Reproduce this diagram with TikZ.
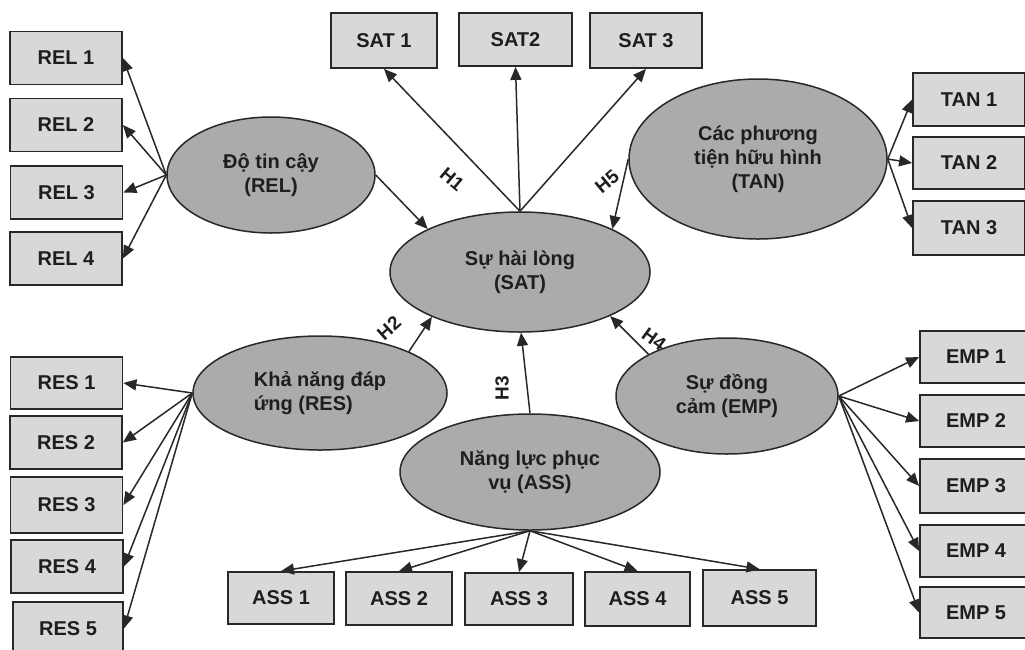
\documentclass[tikz,border=0pt]{standalone}
\usepackage{fontspec}
\setmainfont{Liberation Sans}
\usetikzlibrary{shapes.geometric,arrows.meta,calc}
\definecolor{boxfill}{RGB}{216,216,216}
\definecolor{ellfill}{RGB}{171,171,171}
\definecolor{bordercol}{RGB}{40,40,40}
\definecolor{txt}{RGB}{30,30,30}
\begin{document}
\begin{tikzpicture}[x=1pt,y=-1pt,
  boxnode/.style={draw=bordercol, line width=1.8pt, fill=boxfill, minimum width=112pt, minimum height=53pt, inner sep=0pt, text=txt, font=\bfseries\fontsize{20}{24}\selectfont},
  latent/.style={ellipse, draw=bordercol, line width=1.5pt, fill=ellfill, inner sep=0pt, text=txt, align=center, font=\bfseries\fontsize{20}{24}\selectfont},
  arr/.style={draw=bordercol, line width=1.5pt, -{Triangle[length=13pt,width=11pt]}},
  hlab/.style={text=txt, font=\bfseries\fontsize{19}{19}\selectfont, inner sep=0pt}]
\useasboundingbox (0,0) rectangle (1025,649);
\fill[white] (0,0) rectangle (1025,649);
\clip (0,0) rectangle (1025,649);

% latent ellipses
\node[latent, minimum width=208pt, minimum height=116pt] (REL) at (271,175) {Độ tin cậy\\(REL)};
\node[latent, minimum width=260pt, minimum height=120pt] (SAT) at (520,272) {Sự hài lòng\\(SAT)};
\node[latent, minimum width=258pt, minimum height=160pt] (TAN) at (758,159) {Các phương\\tiện hữu hình\\(TAN)};
\node[latent, minimum width=254pt, minimum height=114pt, align=left] (RES) at (320,393) {Khả năng đáp\\ứng (RES)};
\node[latent, minimum width=260pt, minimum height=116pt] (ASS) at (530,472) {Năng lực phục\\vụ (ASS)};
\node[latent, minimum width=222pt, minimum height=116pt] (EMP) at (727,396) {Sự đồng\\cảm (EMP)};

% REL boxes
\node[boxnode] (REL1) at (66,58) {REL 1};
\node[boxnode] (REL2) at (66,125) {REL 2};
\node[boxnode] (REL3) at (66.5,192.5) {REL 3};
\node[boxnode] (REL4) at (66,258.5) {REL 4};
% SAT boxes
\node[boxnode, minimum width=106pt, minimum height=55pt] (SAT1) at (384,40.5) {SAT 1};
\node[boxnode, minimum width=113pt] (SAT2) at (515.5,39.5) {SAT2};
\node[boxnode, minimum height=55pt] (SAT3) at (646,40.5) {SAT 3};
% TAN boxes
\node[boxnode] (TAN1) at (969,99.5) {TAN 1};
\node[boxnode, minimum height=52pt] (TAN2) at (969,163) {TAN 2};
\node[boxnode, minimum height=54pt] (TAN3) at (969,228) {TAN 3};
% RES boxes
\node[boxnode, minimum height=52pt] (RES1) at (66.5,383) {RES 1};
\node[boxnode] (RES2) at (66,442.5) {RES 2};
\node[boxnode, minimum height=56pt] (RES3) at (66.5,505) {RES 3};
\node[boxnode] (RES4) at (67,566.5) {RES 4};
\node[boxnode, minimum width=110pt] (RES5) at (68,628.5) {RES 5};
% ASS boxes
\node[boxnode, minimum width=106pt, minimum height=52pt] (ASS1) at (281,598) {ASS 1};
\node[boxnode, minimum width=106pt] (ASS2) at (399,598.5) {ASS 2};
\node[boxnode, minimum width=108pt, minimum height=52pt] (ASS3) at (519,599) {ASS 3};
\node[boxnode, minimum width=105pt, minimum height=54pt] (ASS4) at (637.5,599) {ASS 4};
\node[boxnode, minimum width=113pt, minimum height=56pt] (ASS5) at (759.5,598) {ASS 5};
% EMP boxes
\node[boxnode, minimum height=52pt] (EMP1) at (976,357) {EMP 1};
\node[boxnode, minimum height=52pt] (EMP2) at (976,421) {EMP 2};
\node[boxnode, minimum height=54pt] (EMP3) at (976,486) {EMP 3};
\node[boxnode, minimum height=52pt] (EMP4) at (976,551) {EMP 4};
\node[boxnode, minimum height=51pt] (EMP5) at (976,612.5) {EMP 5};

% indicator arrows
\foreach \i in {1,...,4} \draw[arr] (REL.west) -- (REL\i.east);
\foreach \i in {1,...,3} \draw[arr] (SAT.north) -- (SAT\i.south);
\foreach \i in {1,...,3} \draw[arr] (TAN.east) -- (TAN\i.west);
\foreach \i in {1,...,5} \draw[arr] (RES.west) -- (RES\i.east);
\foreach \i in {1,...,5} \draw[arr] (ASS.south) -- (ASS\i.north);
\foreach \i in {1,...,5} \draw[arr] (EMP.east) -- (EMP\i.west);

% structural arrows
\draw[arr] (REL.east) -- (SAT.155);
\draw[arr] (TAN.west) -- (SAT.25);
\draw[arr] (RES.25) -- (SAT.207);
\draw[arr] (ASS.north) -- (SAT.271);
\draw[arr] (EMP.152) -- (SAT.-26);

% hypothesis labels
\node[hlab, rotate=-40] (H1) at (452,179) {H1};
\node[hlab, rotate=40] (H5) at (607,182) {H5};
\node[hlab, rotate=42] (H2) at (389,328) {H2};
\node[hlab, rotate=90] (H3) at (502,388) {H3};
\node[hlab, rotate=-36] (H4) at (654,339) {H4};
\end{tikzpicture}
\end{document}
